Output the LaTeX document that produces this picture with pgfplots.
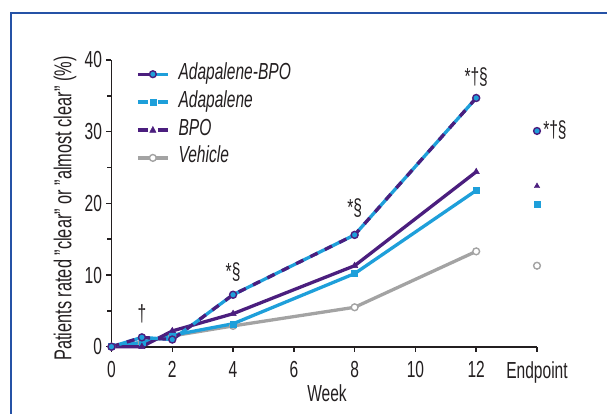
\documentclass[border=0pt]{standalone}
\usepackage{fontspec}
\setmainfont{Liberation Sans}[FakeStretch=0.67]
\usepackage{pgfplots}
\pgfplotsset{compat=1.18}
\definecolor{purp}{HTML}{4B1E7E}
\definecolor{blu}{HTML}{1E9FDA}
\definecolor{gry}{HTML}{A3A3A3}
\definecolor{framec}{HTML}{2552A6}
\definecolor{txt}{HTML}{231F20}
\newcommand{\bigf}{\fontsize{23.3}{26}\selectfont}
\begin{document}
\begin{tikzpicture}
\useasboundingbox (-111.5bp,-67.3bp) rectangle (495.5bp,346.7bp);
\draw[framec, line width=2.2bp] (-100.5bp,-80bp) -- (-100.5bp,333.5bp) -- (510bp,333.5bp);
\begin{axis}[
 at={(0,0)}, anchor=south west, scale only axis,
 width=425.5bp, height=286.7bp,
 xmin=0, xmax=14, ymin=0, ymax=40,
 axis x line*=bottom, axis y line*=left,
 axis line style={line width=1.7bp, txt},
 xtick={0,2,4,6,8,10,12,14},
 xticklabels={0,2,4,6,8,10,12,Endpoint},
 ytick={0,10,20,30,40}, minor ytick={5,15,25,35},
 tick align=outside, major tick length=5bp, minor tick length=4bp,
 every tick/.style={line width=1.5bp, txt},
 /pgf/number format/assume math mode=true,
 tick label style={txt, font=\bigf},
 xticklabel style={yshift=-6bp},
 yticklabel style={xshift=-1bp},
 xlabel={Week}, ylabel={Patients rated "clear" or "almost clear" (\%)},
 xlabel style={at={(axis description cs:0.5065,-0.163)}, anchor=center, txt, font=\bigf},
 ylabel style={at={(axis description cs:-0.109,0.482)}, anchor=center, txt, font=\fontsize{24.5}{27}\selectfont},
 clip=false,
 legend style={draw=none, fill=none, at={(axis description cs:0.0506,0.9895)}, anchor=north west,
   font=\bigf\itshape, nodes={inner sep=0pt, text height=14bp, text depth=4bp, txt},
   row sep=9.9bp, column sep=9bp},
 legend cell align=left,
]
% Vehicle
\addplot[forget plot, gry, line width=3.3bp, mark=*, mark size=3.4bp, mark options={fill=white, draw=gry, line width=1.4bp}]
 coordinates {(0,0)(1,0.6)(2,1.5)(4,2.9)(8,5.5)(12,13.3)};
% Adapalene
\addplot[forget plot, blu, line width=3.3bp, mark=square*, mark size=3bp, mark options={fill=blu, draw=blu, line width=0.5bp}]
 coordinates {(0,0)(1,0.6)(2,1.6)(4,3.2)(8,10.2)(12,21.8)};
% BPO
\addplot[forget plot, purp, line width=3.3bp, mark=triangle*, mark size=3.6bp, mark options={fill=purp, draw=purp, line width=0.5bp}]
 coordinates {(0,0)(1,0)(2,2.2)(4,4.6)(8,11.3)(12,24.4)};
% Adapalene-BPO
\addplot[forget plot, blu, line width=3.3bp]
 coordinates {(0,0)(1,1.3)(2,1.0)(4,7.25)(8,15.6)(12,34.7)};
\addplot[forget plot, purp, line width=3.3bp, dash pattern=on 8bp off 8bp, mark=*, mark size=3.5bp, mark options={solid, fill=blu, draw=purp, line width=1.4bp}]
 coordinates {(0,0)(1,1.3)(2,1.0)(4,7.25)(8,15.6)(12,34.7)};
% Endpoint markers
\addplot[forget plot, only marks, mark=*, mark size=3.4bp, mark options={fill=white, draw=gry, line width=1.4bp}] coordinates {(14,11.3)};
\addplot[forget plot, only marks, mark=square*, mark size=2.8bp, mark options={fill=blu, draw=blu}] coordinates {(14,19.9)};
\addplot[forget plot, only marks, mark=triangle*, mark size=3.2bp, mark options={fill=purp, draw=purp}] coordinates {(14,22.4)};
\addplot[forget plot, only marks, mark=*, mark size=3.4bp, mark options={fill=blu, draw=purp, line width=1.4bp}] coordinates {(14,30.1)};
% Legend
\addlegendimage{legend image code/.code={
  \draw[purp, line width=3.3bp] (0bp,0bp) -- (15bp,0bp);
  \draw[blu, line width=3.3bp] (15bp,0bp) -- (30bp,0bp);
  \draw[purp, fill=blu, line width=1.4bp] (15bp,0bp) circle (3.4bp);}}
\addlegendentry{Adapalene-BPO}
\addlegendimage{legend image code/.code={
  \draw[blu, line width=3.3bp] (0bp,0bp) -- (10bp,0bp);
  \draw[blu, line width=3.3bp] (20bp,0bp) -- (30bp,0bp);
  \fill[blu] (12bp,-3bp) rectangle (18bp,3bp);}}
\addlegendentry{Adapalene}
\addlegendimage{legend image code/.code={
  \draw[purp, line width=3.3bp] (0bp,0bp) -- (10bp,0bp);
  \draw[purp, line width=3.3bp] (20bp,0bp) -- (30bp,0bp);
  \fill[purp] (11.8bp,-2.4bp) -- (18.2bp,-2.4bp) -- (15bp,3.6bp) -- cycle;}}
\addlegendentry{BPO}
\addlegendimage{legend image code/.code={
  \draw[gry, line width=3.3bp] (0bp,0bp) -- (30bp,0bp);
  \draw[gry, fill=white, line width=1.4bp] (15bp,0bp) circle (3.4bp);}}
\addlegendentry{Vehicle}
% Annotations
\node[txt, font=\bigf] at (axis cs:1,4.6) {†};
\node[txt, font=\bigf] at (axis cs:4,10.4) {*§};
\node[txt, font=\bigf] at (axis cs:8,19.3) {*§};
\node[txt, font=\bigf] at (axis cs:12,37.6) {*†§};
\node[txt, font=\bigf, anchor=west, inner sep=0pt] at (axis cs:14.2,30.2) {*†§};
\end{axis}
\end{tikzpicture}
\end{document}
